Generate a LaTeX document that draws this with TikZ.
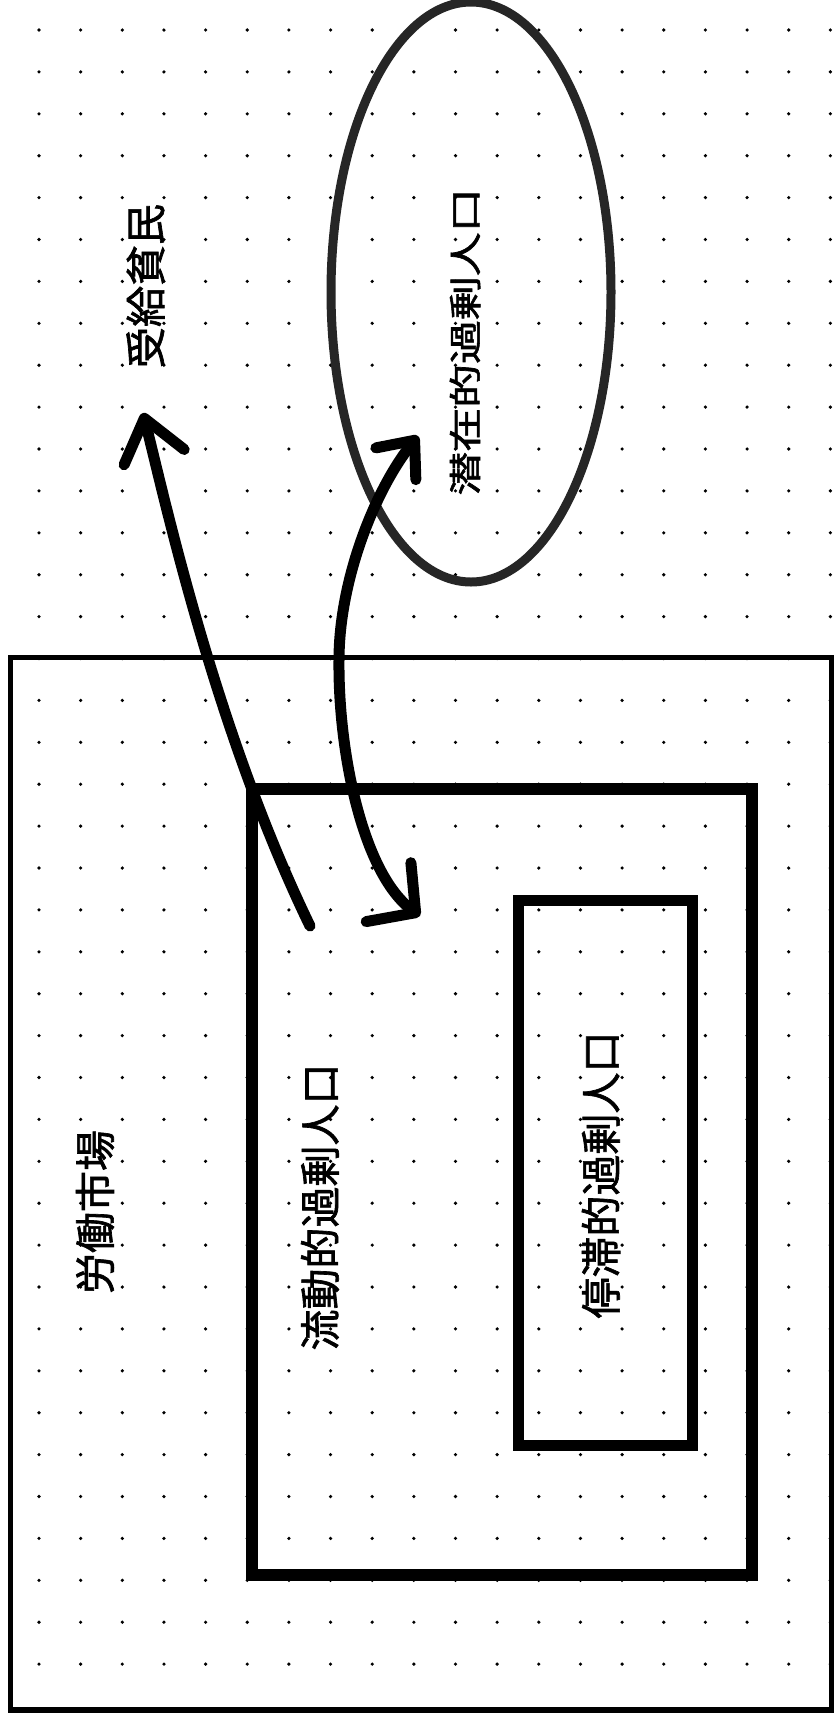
\documentclass[tikz,border=0pt]{standalone}
\usepackage{fontspec}
\newfontfamily\jpfont[FakeBold=1.6]{Noto Sans CJK JP}
\usetikzlibrary{arrows.meta,shapes.geometric}
\tikzset{
  lbl/.style={font=\jpfont\fontsize{41}{41}\selectfont, rotate=90, inner sep=0pt},
  boxc/.style={draw=black, rectangle, inner sep=0pt, fill=none},
  fatarrow/.style={line width=11pt, line cap=round, line join=round, draw=black},
  griddot/.style={fill=black}
}
\begin{document}
\begin{tikzpicture}[x=1pt,y=-1pt]
\useasboundingbox (0,0) rectangle (833,1722);
\fill[white] (0,0) rectangle (833,1722);
% dot grid
\foreach \i in {0,...,20}{
  \foreach \j in {0,...,39}{
    \fill[griddot] (-2.65+41.65*\i,30+41.9*\j) circle (1.8pt);
  }
}
% boxes
\node[boxc, line width=5.5pt, minimum width=821.5pt, minimum height=1052.5pt] (marketbox) at (421.25,1183.75) {};
\node[boxc, line width=12pt, minimum width=500.5pt, minimum height=786.5pt] (floatbox) at (501.75,1181.75) {};
\node[boxc, line width=11pt, minimum width=174pt, minimum height=545pt] (stagbox) at (605,1172.5) {};
% ellipse
\node[draw=black!85, ellipse, line width=9pt, minimum width=280pt, minimum height=580pt, inner sep=0pt] (latentell) at (471,292) {};
% arrows
\coordinate (a1s) at (310,926);
\coordinate (a1e) at (143,413);
\draw[fatarrow, -{Straight Barb[length=40pt,width=62pt,round]}] (a1s) .. controls (215,730) and (165,500) .. (a1e);
\coordinate (a2s) at (420,916);
\coordinate (a2m) at (339,660);
\coordinate (a2e) at (418,436);
\draw[fatarrow, {Straight Barb[length=34pt,width=74pt,round]}-{Straight Barb[length=30pt,width=51pt,round]}] (a2s) .. controls (362,872) and (338,750) .. (a2m) .. controls (339,580) and (375,490) .. (a2e);
% labels
\node[lbl] (pauper) at (145.5,286) {受給貧民};
\node[lbl, font=\jpfont\fontsize{33}{33}\selectfont] (latent) at (465,342) {\scalebox{1.33}[1]{潜在的過剰人口}};
\node[lbl] (market) at (95,1212) {労働市場};
\node[lbl] (floating) at (320,1207) {流動的過剰人口};
\node[lbl] (stagnant) at (601,1175) {停滞的過剰人口};
\end{tikzpicture}
\end{document}
